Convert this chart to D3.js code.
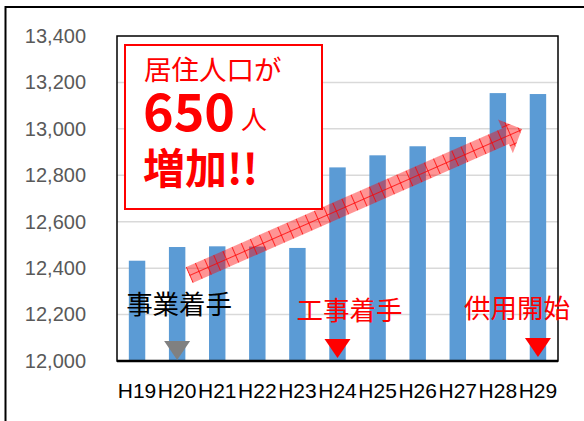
<!DOCTYPE html>
<html>
<head>
<meta charset="utf-8">
<script src="https://cdn.jsdelivr.net/npm/d3@7"></script>
<style>
  body { margin: 0; background: #fff; }
  svg { display: block; }
</style>
</head>
<body>
<div id="chart"></div>
<script>
// data
var categories = ["H19", "H20", "H21", "H22", "H23", "H24", "H25", "H26", "H27", "H28", "H29"];
var population = [12432, 12491, 12494, 12493, 12487, 12834, 12886, 12925, 12965, 13154, 13150];
var yTicks = [12000, 12200, 12400, 12600, 12800, 13000, 13200, 13400];
var eventCats = ["H20", "H24", "H29"];
var eventLabels = ["事業着手", "工事着手", "供用開始"];
// trend arrow: [category index (fractional), value]
var trendFrom = [1.3, 12370];
var trendTo = [9.6, 12999];

var W = 584, H = 421;
var margin = { top: 36, right: 26, bottom: 60, left: 117 },
  width = W - margin.left - margin.right,
  height = H - margin.top - margin.bottom;

var svgRoot = d3.select("#chart")
  .append("svg")
  .attr("width", W)
  .attr("height", H);

// outer frame
svgRoot.append("rect")
  .attr("x", 5.5).attr("y", 7)
  .attr("width", 700).attr("height", 600)
  .attr("fill", "none").attr("stroke", "#000").attr("stroke-width", 2);

var defs = svgRoot.append("defs");
var pat = defs.append("pattern")
  .attr("id", "hatch")
  .attr("patternUnits", "userSpaceOnUse")
  .attr("width", 10).attr("height", 10);
pat.append("rect").attr("width", 10).attr("height", 10)
  .attr("fill", "#ff0000").attr("fill-opacity", 0.42);
pat.append("path").attr("d", "M0,0.5H10M0.5,0V10")
  .attr("stroke", "#ff0000").attr("stroke-opacity", 0.75).attr("stroke-width", 1);

var svg = svgRoot.append("g")
  .attr("transform", "translate(" + margin.left + "," + margin.top + ")");

var x = d3.scaleBand()
  .domain(categories)
  .range([0, width])
  .paddingInner(0.59)
  .paddingOuter(0.295);

var y = d3.scaleLinear().domain([12000, 13400]).range([height, 0]);

// gridlines
svg.append("g")
  .selectAll("line")
  .data(yTicks.slice(1, -1))
  .enter()
  .append("line")
  .attr("x1", 0).attr("x2", width)
  .attr("y1", function (d) { return y(d); })
  .attr("y2", function (d) { return y(d); })
  .attr("stroke", "#d9d9d9").attr("stroke-width", 1.5);

// y axis labels
var yAxis = svg.append("g")
  .attr("transform", "translate(-28,0)")
  .call(d3.axisLeft(y).tickValues(yTicks).tickSize(0).tickFormat(d3.format(",")));
yAxis.select(".domain").remove();
yAxis.selectAll("text")
  .attr("fill", "#595959")
  .style("font-family", "Liberation Sans, Arial, sans-serif")
  .style("font-size", "20px");

// bars
svg.selectAll("mybar")
  .data(population)
  .enter()
  .append("rect")
  .attr("x", function (d, i) { return x(categories[i]); })
  .attr("y", function (d) { return y(d); })
  .attr("width", x.bandwidth())
  .attr("height", function (d) { return height - y(d); })
  .attr("fill", "#5b9bd5");

// x axis labels
var xAxis = svg.append("g")
  .attr("transform", "translate(0," + height + ")")
  .call(d3.axisBottom(x).tickSize(0).tickPadding(22));
xAxis.select(".domain").remove();
xAxis.selectAll("text")
  .attr("fill", "#000")
  .style("font-family", "Liberation Sans, Arial, sans-serif")
  .style("font-size", "21px");

// plot border
svg.append("rect")
  .attr("x", 0).attr("y", 0)
  .attr("width", width).attr("height", height)
  .attr("fill", "none").attr("stroke", "#000").attr("stroke-width", 1.5);
svg.append("line")
  .attr("x1", 0).attr("x2", width)
  .attr("y1", height).attr("y2", height)
  .attr("stroke", "#000").attr("stroke-width", 2.5);

// callout box
var box = svg.append("g").attr("transform", "translate(8,9)");
box.append("rect")
  .attr("width", 197).attr("height", 164)
  .attr("fill", "#fff").attr("stroke", "#ff0000").attr("stroke-width", 2);
var jp = "'Noto Sans CJK JP', sans-serif";
box.append("text")
  .attr("x", 19).attr("y", 35)
  .attr("fill", "#ff0000")
  .style("font-family", jp).style("font-size", "27.5px")
  .text("居住人口が");
box.append("text")
  .attr("x", 18).attr("y", 86)
  .attr("fill", "#ff0000")
  .style("font-family", jp).style("font-size", "52px").style("font-weight", "bold")
  .text("650");
box.append("text")
  .attr("x", 116).attr("y", 84)
  .attr("fill", "#ff0000")
  .style("font-family", jp).style("font-size", "26px")
  .text("人");
box.append("text")
  .attr("x", 18).attr("y", 139)
  .attr("fill", "#ff0000")
  .style("font-family", jp).style("font-size", "42px").style("font-weight", "bold")
  .text("増加!!");

// trend arrow
var step = x.step();
function xAt(idx) { return x(categories[0]) + x.bandwidth() / 2 + idx * step; }
var ax0 = xAt(trendFrom[0]), ay0 = y(trendFrom[1]);
var ax1 = xAt(trendTo[0]), ay1 = y(trendTo[1]);
var len = Math.sqrt((ax1 - ax0) * (ax1 - ax0) + (ay1 - ay0) * (ay1 - ay0));
var ang = Math.atan2(ay1 - ay0, ax1 - ax0) * 180 / Math.PI;
var sw = 8.5, hw = 18.5, hl = 18;
svg.append("path")
  .attr("transform", "translate(" + ax0 + "," + ay0 + ") rotate(" + ang + ")")
  .attr("d", "M0," + (-sw) + "L" + (len - hl) + "," + (-sw) + "L" + (len - hl) + "," + (-hw) +
    "L" + len + ",0L" + (len - hl) + "," + hw + "L" + (len - hl) + "," + sw + "L0," + sw + "Z")
  .attr("fill", "url(#hatch)");

// event markers
var evColors = ["#808080", "#ff0000", "#ff0000"];
var txtColors = ["#000", "#ff0000", "#ff0000"];
var labelDx = [2, 12, -21];
var labelY = [278, 284, 282];
var triBottom = [height - 1, height - 3, height - 4];
eventCats.forEach(function (c, i) {
  var cx = x(c) + x.bandwidth() / 2;
  var b = triBottom[i];
  svg.append("path")
    .attr("d", "M" + (cx - 13) + "," + (b - 19) + "L" + (cx + 13) + "," + (b - 19) + "L" + cx + "," + b + "Z")
    .attr("fill", evColors[i]);
  svg.append("text")
    .attr("x", cx + labelDx[i])
    .attr("y", labelY[i])
    .attr("text-anchor", "middle")
    .attr("fill", txtColors[i])
    .style("font-family", jp).style("font-size", "26.5px")
    .text(eventLabels[i]);
});
</script>
</body>
</html>
